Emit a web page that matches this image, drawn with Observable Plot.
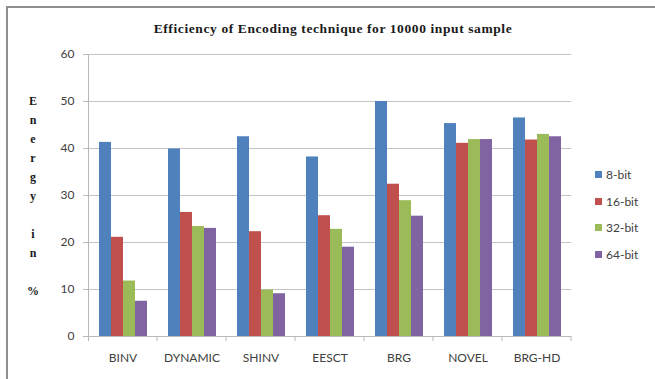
<!DOCTYPE html>
<html>
<head>
<meta charset="utf-8">
<script src="https://cdn.jsdelivr.net/npm/d3@7"></script>
<script src="https://cdn.jsdelivr.net/npm/@observablehq/plot@0.6"></script>
<style>
  body { margin: 0; background: #fff; }
  #wrap { position: relative; width: 655px; height: 379px; overflow: hidden; background: #fff; }
  #frame { position: absolute; left: 6px; top: 6px; width: 700px; height: 420px;
           border-top: 2px solid #8e8e8e; border-left: 2px solid #8e8e8e; }
  #title { position: absolute; top: 21px; left: 333px; transform: translateX(-50%); white-space: nowrap;
           font: bold 13.5px "Liberation Serif", serif; letter-spacing: 0.6px; color: #1a1a1a; }
  #ylabel { position: absolute; left: 24px; top: 92px; width: 18px; text-align: center; white-space: pre;
            font: bold 12px "Liberation Serif", serif; line-height: 19px; color: #1a1a1a; }
  #legend { position: absolute; left: 595px; top: 161px; font: 12px Lato, sans-serif; color: #404040; }
  #legend .row { display: flex; align-items: center; height: 26.7px; }
  #legend .sw { width: 7px; height: 7px; margin-right: 4px; }
  #chart { position: absolute; left: 0; top: 0; }
</style>
</head>
<body>
<div id="wrap">
  <div id="chart"></div>
  <div id="frame"></div>
  <div id="title"></div>
  <div id="ylabel"></div>
  <div id="legend"></div>
</div>
<script>
// Encoding techniques compared
const categories = ["BINV", "DYNAMIC", "SHINV", "EESCT", "BRG", "NOVEL", "BRG-HD"];
// Bus widths
const series = ["8-bit", "16-bit", "32-bit", "64-bit"];
// Energy saving (%) per technique, one array per bus width
const bit8  = [41.3, 39.9, 42.5, 38.2, 50.0, 45.3, 46.5];
const bit16 = [21.1, 26.4, 22.3, 25.7, 32.4, 41.1, 41.8];
const bit32 = [11.8, 23.4,  9.9, 22.8, 28.9, 41.9, 43.0];
const bit64 = [ 7.5, 23.0,  9.1, 19.0, 25.6, 41.9, 42.5];
const yTicks = [0, 10, 20, 30, 40, 50, 60];
const colors = ["#4F81BD", "#C0504D", "#9BBB59", "#8064A2"];
const titleText = "Efficiency of Encoding technique for 10000 input sample";
const yLabelText = "Energy in %";

const values = [bit8, bit16, bit32, bit64];
const rows = categories.flatMap((c, i) =>
  series.map((s, j) => ({category: c, series: s, value: values[j][i]})));

const chart = Plot.plot({
  width: 655,
  height: 379,
  marginLeft: 85,
  marginRight: 82,
  marginTop: 54,
  marginBottom: 43,
  style: {fontFamily: "Lato, sans-serif", fontSize: "12px", color: "#404040", background: "transparent"},
  fx: {domain: categories, padding: 0, label: null},
  x: {domain: series, paddingInner: 0, paddingOuter: 0.77, axis: null},
  y: {domain: [0, 60], label: null},
  color: {domain: series, range: colors},
  marks: [
    Plot.gridY(yTicks, {stroke: "#c4c4c4", strokeOpacity: 1}),
    Plot.axisY(yTicks, {tickSize: 5, tickPadding: 9, stroke: "#bdbdbd", fill: "#404040", label: null}),
    Plot.axisFx({anchor: "bottom", tickSize: 0, tickPadding: 17, label: null, fill: "#404040"}),
    Plot.barY(rows, {fx: "category", x: "series", y: "value", fill: "series"})
  ]
});
document.getElementById("chart").appendChild(chart);

// Category axis line, its boundary ticks, and the value axis line
const fx = chart.scale("fx");
const y = chart.scale("y");
const y0 = y.apply(0);
const yTop = y.apply(60);
const bounds = categories.map(c => fx.apply(c)).concat([fx.apply(categories[categories.length - 1]) + fx.bandwidth]);
const svg = d3.select(chart);
const g = svg.append("g").attr("stroke", "#b8b8b8").attr("stroke-width", 1);
g.append("line").attr("x1", bounds[0] - 5).attr("x2", bounds[bounds.length - 1])
  .attr("y1", y0 + 0.5).attr("y2", y0 + 0.5);
g.append("line").attr("x1", bounds[0] + 0.5).attr("x2", bounds[0] + 0.5)
  .attr("y1", yTop).attr("y2", y0 + 5);
g.selectAll("line.bt").data(bounds.slice(1)).join("line").attr("class", "bt")
  .attr("x1", d => d).attr("x2", d => d).attr("y1", y0).attr("y2", y0 + 5);

// Title, vertical axis label and legend
document.getElementById("title").textContent = titleText;
const words = yLabelText.split(" ");
document.getElementById("ylabel").textContent = words.map(w => w.split("").join("\n")).join("\n\n");
const legend = d3.select("#legend");
series.forEach((s, i) => {
  const row = legend.append("div").attr("class", "row");
  row.append("div").attr("class", "sw").style("background", colors[i]);
  row.append("span").text(s);
});
</script>
</body>
</html>
